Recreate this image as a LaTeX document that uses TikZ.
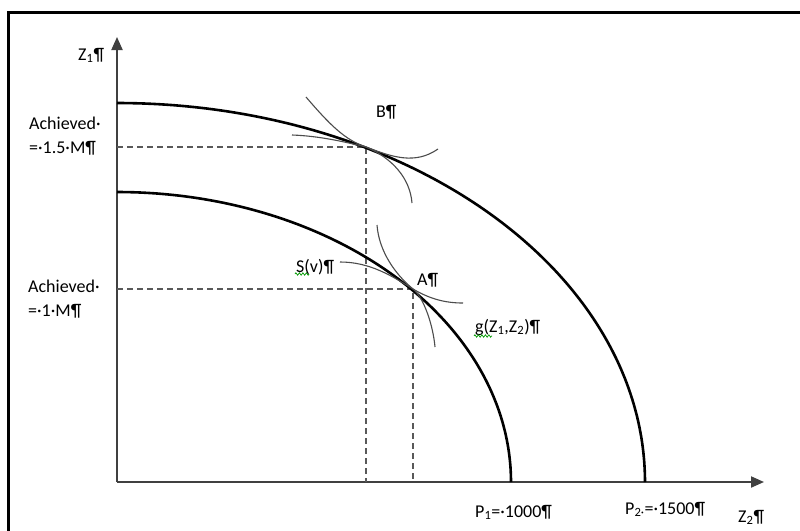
\documentclass[tikz,border=0pt]{standalone}
\usepackage{fontspec}
\setmainfont{Carlito}
\usetikzlibrary{arrows.meta,decorations.pathmorphing}
\begin{document}
\begin{tikzpicture}[x=1pt,y=-1pt,
  lbl/.style={inner sep=0pt,font=\fontsize{18}{24}\selectfont,text=black},
  axisline/.style={draw=black!75,line width=2pt,-{Triangle[length=13pt,width=11pt]}},
  ppf/.style={draw=black,line width=2.6pt},
  guide/.style={draw=black!65,line width=1.5pt,dash pattern=on 6pt off 4pt},
  thin/.style={draw=black!70,line width=1.1pt},
  squig/.style={draw=green!60!black,line width=0.7pt,decorate,decoration={zigzag,segment length=3.5pt,amplitude=1.2pt}}]
\useasboundingbox (0,0) rectangle (800,530);
\fill[white] (0,0) rectangle (800,530);
% frame
\draw[line width=3pt,black] (8,532) -- (8,12) -- (802,12);
% axes
\coordinate (O) at (117,482);
\coordinate (ytip) at (117,37);
\coordinate (xtip) at (764,482);
\draw[axisline] (O) -- (ytip);
\draw[axisline] (O) -- (xtip);
% points
\coordinate (B) at (366,147);
\coordinate (A) at (413,289);
\coordinate (Bx) at (366,482);
\coordinate (By) at (117,147);
\coordinate (Ax) at (413,482);
\coordinate (Ay) at (117,289);
% dashed guides
\draw[guide] (By) -- (B) -- (Bx);
\draw[guide] (Ay) -- (A) -- (Ax);
% production possibility frontiers (quarter ellipses)
\draw[ppf] plot[domain=0:90,samples=120] ({117+528*cos(\x)},{482-379*sin(\x)});
\draw[ppf] plot[domain=0:90,samples=120] ({117+394*cos(\x)},{482-290*sin(\x)});
% tangent curves at B
\draw[thin] (306,97) .. controls (330,125) and (345,140) .. (B) .. controls (392,158) and (410,178) .. (412,203);
\draw[thin] (292,135) .. controls (320,136) and (345,142) .. (B) .. controls (392,157) and (415,165) .. (438,149);
% tangent curves at A
\draw[thin] (377,225) .. controls (379,252) and (396,275) .. (A) .. controls (424,298) and (433,325) .. (435,347);
\draw[thin] (340,262) .. controls (370,262) and (392,276) .. (A) .. controls (430,299) and (445,303) .. (463,303);
% labels
\node[lbl,anchor=base west] (z1) at (78,60) {Z\textsubscript{1}¶};
\node[lbl,anchor=west,align=left] (ach15) at (29,136) {Achieved·\\=·1.5·M¶};
\node[lbl,anchor=west,align=left] (ach1) at (28,299) {Achieved·\\=·1·M¶};
\node[lbl,anchor=base west] (lb) at (376,117) {B¶};
\node[lbl,anchor=base west] (lsv) at (296,272) {S(v)¶};
\node[lbl,anchor=base west] (la) at (417,285) {A¶};
\node[lbl,anchor=base west] (lg) at (475,332) {g(Z\textsubscript{1},Z\textsubscript{2})¶};
\node[lbl,anchor=base west] (p1) at (475,517) {P\textsubscript{1}=·1000¶};
\node[lbl,anchor=base west] (p2) at (625,514) {P\textsubscript{2·}=·1500¶};
\node[lbl,anchor=base west] (z2) at (738,522) {Z\textsubscript{2}¶};
% spell-check squiggles
\draw[squig] (295,274) -- (309,274);
\draw[squig] (474,336) -- (492,336);
\end{tikzpicture}
\end{document}
